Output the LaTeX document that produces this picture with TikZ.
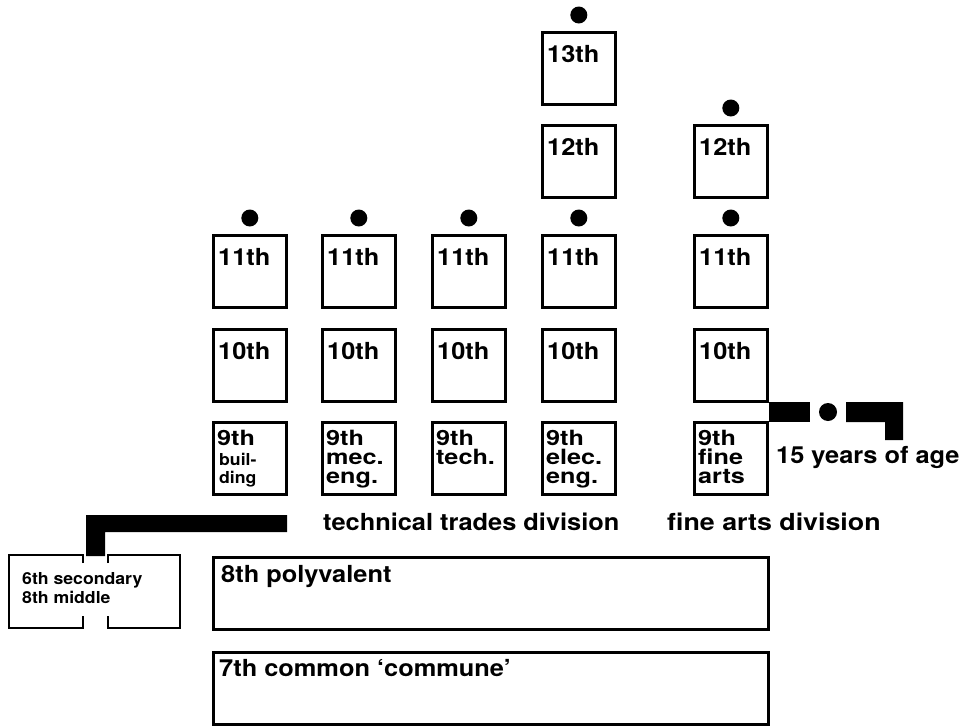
\documentclass[tikz,border=0pt]{standalone}
\usepackage{fontspec}
\setmainfont{TeX Gyre Heros}
\newfontfamily\hba[FakeStretch=1.08]{TeX Gyre Heros}
\newfontfamily\hbb[FakeStretch=1.2]{TeX Gyre Heros}
\newfontfamily\hbc[FakeStretch=1.07]{TeX Gyre Heros}
\newfontfamily\hbd[FakeStretch=1.14]{TeX Gyre Heros}
\begin{document}
\begin{tikzpicture}[x=1pt,y=-1pt,
  cellbox/.style={draw, line width=2.6pt, minimum width=73pt, minimum height=72pt, inner sep=0pt, anchor=north west},
  bigbox/.style={draw, line width=2.6pt, minimum width=555pt, minimum height=72pt, inner sep=0pt, anchor=north west},
  lab/.style={font=\hba\fontsize{23.5}{23.5}\selectfont\bfseries, inner sep=0pt, anchor=base west},
  ninelab/.style={font=\hbb\fontsize{21}{21}\selectfont\bfseries, inner sep=0pt, anchor=base west},
  smalllab/.style={font=\hbc\fontsize{16.5}{16.5}\selectfont\bfseries, inner sep=0pt, anchor=base west},
  dotmark/.style={circle, fill, minimum size=17pt, inner sep=0pt}]
\useasboundingbox (0,0) rectangle (959,726);
% boxes
\newcommand{\cellat}[3]{\node[cellbox] (#1) at (#2,#3) {};}
\cellat{a11}{212}{234}\cellat{a10}{212}{328}\cellat{a9}{212}{421}
\cellat{b11}{321}{234}\cellat{b10}{321}{328}\cellat{b9}{321}{421}
\cellat{c11}{431}{234}\cellat{c10}{431}{328}\cellat{c9}{431}{421}
\cellat{d13}{541}{31}\cellat{d12}{541}{124}\cellat{d11}{541}{234}\cellat{d10}{541}{328}\cellat{d9}{541}{421}
\cellat{e12}{693}{124}\cellat{e11}{693}{234}\cellat{e10}{693}{328}\cellat{e9}{693}{421}
% dots
\foreach \n in {a11,b11,c11,d11,e11,d13,e12}{
  \node[dotmark] (dot-\n) at ([yshift=16pt]\n.north) {};
}
% single labels
\foreach \n/\t in {a11/11th,b11/11th,c11/11th,d11/11th,e11/11th,a10/10th,b10/10th,c10/10th,d10/10th,e10/10th,d13/13th,d12/12th,e12/12th}{
  \node[lab] (t-\n) at ([xshift=6pt,yshift=-31pt]\n.north west) {\t};
}
% ninth grade labels
\foreach \n in {a9,b9,c9,d9,e9}{
  \node[ninelab] (t9-\n) at ([xshift=5pt,yshift=-24pt]\n.north west) {9th};
}
\node[smalllab] (t2-a9) at ([xshift=7pt,yshift=-44pt]a9.north west) {buil-};
\node[smalllab] (t3-a9) at ([xshift=7pt,yshift=-62pt]a9.north west) {ding};
\node[ninelab] (t2-b9) at ([xshift=5pt,yshift=-43pt]b9.north west) {mec.};
\node[ninelab] (t3-b9) at ([xshift=5pt,yshift=-62pt]b9.north west) {eng.};
\node[ninelab] (t2-c9) at ([xshift=5pt,yshift=-43pt]c9.north west) {tech.};
\node[ninelab] (t2-d9) at ([xshift=5pt,yshift=-43pt]d9.north west) {elec.};
\node[ninelab] (t3-d9) at ([xshift=5pt,yshift=-62pt]d9.north west) {eng.};
\node[ninelab] (t2-e9) at ([xshift=5pt,yshift=-43pt]e9.north west) {fine};
\node[ninelab] (t3-e9) at ([xshift=5pt,yshift=-62pt]e9.north west) {arts};
% division labels
\node[lab] (techdiv) at (323,530) {technical trades division};
\node[lab, font=\hbd\fontsize{23.5}{23.5}\selectfont\bfseries] (artsdiv) at (667,530) {fine arts division};
\node[lab] (age) at (776,463) {15 years of age};
% age marker
\fill (769,402) rectangle (810,422);
\node[dotmark, minimum size=18pt] (agedot) at (828,412) {};
\fill (846,402) -- (903,402) -- (903,440) -- (885,440) -- (885,422) -- (846,422) -- cycle;
% big boxes
\node[bigbox] (poly) at (212,556) {};
\node[bigbox] (commune) at (212,651) {};
\node[lab] (t-poly) at (221,582) {8th polyvalent};
\node[lab] (t-commune) at (219,676) {7th common {\char"2018}commune{\char"2019}};
% 6th secondary box with gaps
\draw[line width=2.6pt, line join=miter]
  (83,563) -- (83,555) -- (9,555) -- (9,628) -- (83,628) -- (83,616)
  (108,563) -- (108,555) -- (180,555) -- (180,628) -- (108,628) -- (108,616);
\node[smalllab] (t-sec1) at (22,584) {6th secondary};
\node[smalllab] (t-sec2) at (22,603) {8th middle};
% black bar
\fill (86,556) -- (86,515) -- (287,515) -- (287,532) -- (105,532) -- (105,556) -- cycle;
\end{tikzpicture}
\end{document}
